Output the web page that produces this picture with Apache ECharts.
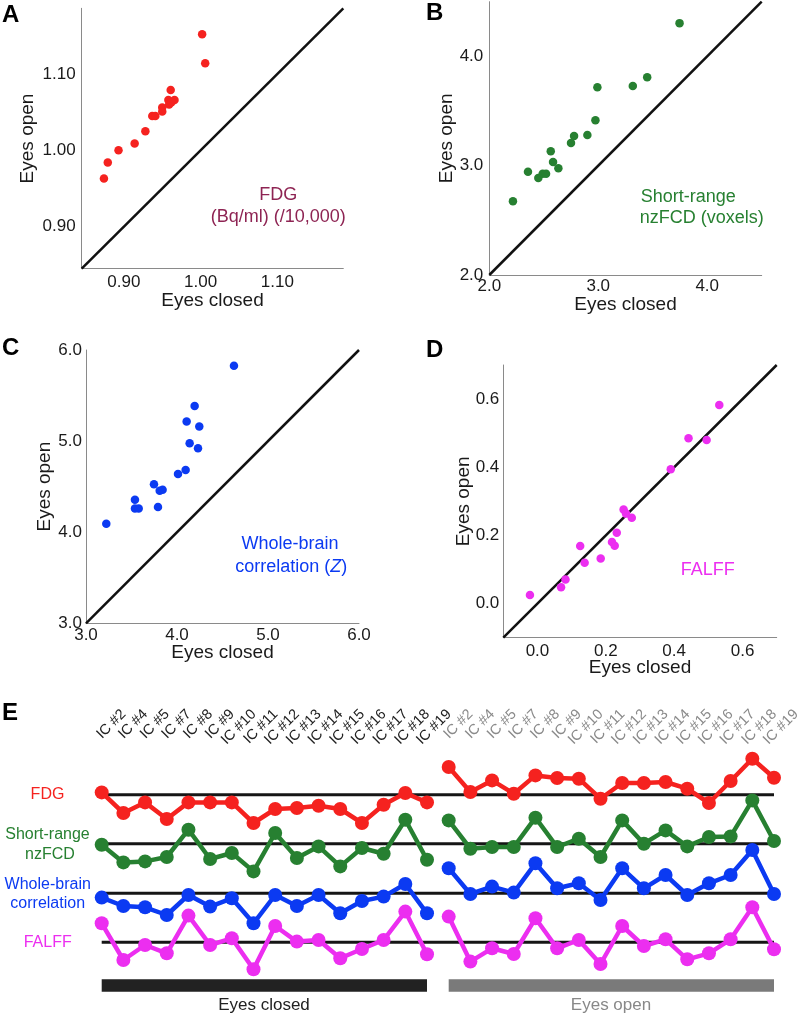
<!DOCTYPE html>
<html><head><meta charset="utf-8">
<script src="https://cdn.jsdelivr.net/npm/echarts@6/dist/echarts.min.js"></script>
<style>html,body{margin:0;padding:0;background:#fff}#c{width:800px;height:1015px}</style>
</head><body><div id="c"></div><script>
// ---------- DATA ----------
// Panel A: FDG (Bq/ml) (/10,000)
const fdgClosed = [1.002,1.006,0.961,0.958,0.966,0.959,0.950,0.950,0.937,0.941,0.928,0.914,0.893,0.879,0.874,0.962];
const fdgOpen   = [1.152,1.114,1.079,1.066,1.066,1.060,1.056,1.051,1.045,1.045,1.025,1.009,1.000,0.984,0.963,1.063];
// Panel B: short-range nzFCD (voxels)
const nzClosed = [3.746,3.449,3.317,2.992,2.974,2.900,2.778,2.750,2.564,2.585,2.634,2.355,2.450,2.490,2.521,2.217];
const nzOpen   = [4.304,3.809,3.729,3.717,3.416,3.280,3.271,3.207,3.131,3.033,2.976,2.945,2.888,2.927,2.927,2.675];
// Panel C: whole-brain correlation (Z)
const wbClosed = [4.626,4.194,4.106,4.245,4.139,4.231,4.095,4.011,3.747,3.810,3.842,3.538,3.538,3.579,3.791,3.223];
const wbOpen   = [5.828,5.386,5.214,5.159,4.976,4.921,4.683,4.639,4.526,4.456,4.467,4.357,4.259,4.259,4.277,4.094];
// Panel D: FALFF
const falffClosed = [0.532,0.442,0.495,0.390,0.252,0.259,0.276,0.232,0.218,0.226,0.125,0.138,0.185,0.082,0.069,-0.022];
const falffOpen   = [0.583,0.485,0.480,0.394,0.276,0.264,0.252,0.208,0.181,0.170,0.169,0.120,0.132,0.071,0.048,0.025];

// Tick labels
const ticksA = [0.90, 1.00, 1.10];
const ticksB = [2.0, 3.0, 4.0];
const ticksC = [3.0, 4.0, 5.0, 6.0];
const ticksD = [0.0, 0.2, 0.4, 0.6];

// Panel E: per-IC profiles (relative units, 0 = reference line)
const icLabels = ['IC #2','IC #4','IC #5','IC #7','IC #8','IC #9','IC #10','IC #11','IC #12','IC #13','IC #14','IC #15','IC #16','IC #17','IC #18','IC #19'];
const eFdgClosed   = [0.23,-1.83,-0.77,-2.43,-0.77,-0.77,-0.77,-2.83,-1.43,-1.33,-1.10,-1.43,-2.83,-1.00,0.17,-0.77];
const eFdgOpen     = [2.77,0.27,1.43,0.10,1.93,1.67,1.60,-0.40,1.17,1.17,1.27,0.60,-0.83,1.37,3.60,1.70];
const eNzClosed    = [-0.10,-1.87,-1.77,-1.33,1.40,-1.53,-0.93,-2.77,1.07,-1.43,-0.27,-2.27,-0.43,-1.00,2.40,-1.60];
const eNzOpen      = [2.33,-0.50,-0.33,-0.33,2.60,-0.33,0.50,-1.33,2.33,0.00,1.33,-0.27,0.67,0.73,4.33,0.27];
const eWbClosed    = [-0.43,-1.27,-1.40,-2.17,-0.17,-1.33,-0.50,-3.00,-0.17,-1.27,-0.17,-2.00,-0.77,-0.33,0.93,-2.00];
const eWbOpen      = [2.50,-0.07,0.67,0.07,3.00,0.50,1.00,-0.67,2.50,0.50,1.83,-0.17,1.00,1.83,4.33,-0.07];
const eFalffClosed = [1.90,-1.77,-0.27,-1.10,2.67,-0.27,0.40,-2.70,1.63,0.07,0.23,-1.60,-0.67,0.23,3.07,-1.20];
const eFalffOpen   = [2.57,-1.93,-0.60,-1.17,2.40,-0.60,0.23,-2.17,1.63,-0.37,0.30,-1.70,-1.10,0.30,3.50,-0.70];

// ---------- STYLE ----------
const FONT = '"Liberation Sans", Arial, Helvetica, sans-serif';
const RED = '#f5221f', GREEN = '#278031', BLUE = '#0b3af2', MAG = '#ec2ef0';
const N = icLabels.length;

const chart = echarts.init(document.getElementById('c'), null, {renderer: 'canvas'});

const grids = [
  {left: 81.7,  top: 8.3,  width: 261.6, height: 260.4},
  {left: 489.3, top: 1.7,  width: 272.4, height: 273.3},
  {left: 86,    top: 350,  width: 273,   height: 273.3},
  {left: 503.3, top: 365,  width: 273.4, height: 272.7},
  {left: 101.7, top: 750,  width: 672.3, height: 250},   // E plot
  {left: 123.7, top: 720,  width: 672.3, height: 10}     // E labels
];

function scatAxis(gi, min, max, ticks, dec, isY, nameGap, labelMargin) {
  return {
    type: 'value', gridIndex: gi, min: min, max: max,
    name: isY ? 'Eyes open' : 'Eyes closed',
    nameLocation: 'middle', nameGap: nameGap, nameMoveOverlap: false,
    nameTextStyle: {fontFamily: FONT, fontSize: 19, color: '#1a1a1a'},
    axisLine: {show: true, onZero: false, lineStyle: {color: '#8a8a8a', width: 1}},
    axisTick: {show: false, customValues: ticks},
    splitLine: {show: false},
    axisLabel: {customValues: ticks, margin: labelMargin, fontFamily: FONT, fontSize: 17, color: '#1a1a1a',
                formatter: v => Number(v).toFixed(dec)}
  };
}

const xAxes = [
  scatAxis(0, 0.845, 1.186, ticksA, 2, false, 23, 5),
  scatAxis(1, 2.0, 4.5, ticksB, 1, false, 20, 3),
  scatAxis(2, 3.0, 6.0, ticksC, 1, false, 20, 4),
  scatAxis(3, -0.1, 0.7, ticksD, 1, false, 21, 5),
  {type: 'value', gridIndex: 4, min: 0, max: 2 * N - 1, show: false},
  {type: 'value', gridIndex: 5, min: 0, max: 2 * N - 1, interval: 1, position: 'top',
   axisLine: {show: false}, axisTick: {show: false}, splitLine: {show: false},
   axisLabel: {rotate: 45, align: 'right', verticalAlign: 'middle', margin: 8, fontFamily: FONT, fontSize: 14.5,
     formatter: v => icLabels[v % N],
     color: (v) => (v < N ? '#222222' : '#8a8a8a')}}
];

// E y-axes: reference line pixel rows -> axis ranges (10 px per unit)
const eBottom = 1000, eSpan = 25;
function eAxis(yLine) {
  const m = -(eBottom - yLine) / 10;
  return {type: 'value', gridIndex: 4, min: m, max: m + eSpan, show: false};
}
const yAxes = [
  scatAxis(0, 0.845, 1.186, ticksA, 2, true, 44, 6),
  scatAxis(1, 2.0, 4.5, ticksB, 1, true, 33, 6),
  scatAxis(2, 3.0, 6.0, ticksC, 1, true, 31.5, 4),
  scatAxis(3, -0.1, 0.7, ticksD, 1, true, 30.5, 4),
  eAxis(794.7), eAxis(843.7), eAxis(893.3), eAxis(942.3), eAxis(985.5),
  {type: 'value', gridIndex: 5, show: false, min: 0, max: 1}
];

const zip = (a, b) => a.map((v, i) => [v, b[i]]);
const idx = (arr, off) => arr.map((v, i) => [i + off, v]);

function diag(gi, min, max) {
  return {type: 'line', xAxisIndex: gi, yAxisIndex: gi, data: [[min, min], [max, max]], symbol: 'none', silent: true,
          lineStyle: {color: '#111', width: 2.5}, z: 2};
}
function scat(gi, xs, ys, color) {
  return {type: 'scatter', xAxisIndex: gi, yAxisIndex: gi, data: zip(xs, ys), symbolSize: 8.5,
          itemStyle: {color: color, opacity: 1}, z: 3};
}
function refLine(yi) {
  return {type: 'line', xAxisIndex: 4, yAxisIndex: yi, data: [[0, 0], [2 * N - 1, 0]], symbol: 'none', silent: true,
          lineStyle: {color: '#161616', width: 3}, z: 2};
}
function prof(yi, arr, off, color) {
  return {type: 'line', xAxisIndex: 4, yAxisIndex: yi, data: idx(arr, off), symbol: 'circle', symbolSize: 14,
          lineStyle: {color: color, width: 4.5}, itemStyle: {color: color}, z: 3, silent: true};
}

const series = [
  diag(0, 0.845, 1.186), scat(0, fdgClosed, fdgOpen, RED),
  diag(1, 2.0, 4.5), scat(1, nzClosed, nzOpen, GREEN),
  diag(2, 3.0, 6.0), scat(2, wbClosed, wbOpen, BLUE),
  diag(3, -0.1, 0.7), scat(3, falffClosed, falffOpen, MAG),
  refLine(4), refLine(5), refLine(6), refLine(7),
  prof(4, eFdgClosed, 0, RED), prof(4, eFdgOpen, N, RED),
  prof(5, eNzClosed, 0, GREEN), prof(5, eNzOpen, N, GREEN),
  prof(6, eWbClosed, 0, BLUE), prof(6, eWbOpen, N, BLUE),
  prof(7, eFalffClosed, 0, MAG), prof(7, eFalffOpen, N, MAG),
  {type: 'line', xAxisIndex: 4, yAxisIndex: 8, data: [[0, 0], [N - 1, 0]], symbol: 'none', silent: true,
   lineStyle: {color: '#222222', width: 12.5, cap: 'butt'}},
  {type: 'line', xAxisIndex: 4, yAxisIndex: 8, data: [[N, 0], [2 * N - 1, 0]], symbol: 'none', silent: true,
   lineStyle: {color: '#7a7a7a', width: 12.5, cap: 'butt'}}
];

function txt(x, y, text, opts) {
  return Object.assign({type: 'text', x: x, y: y, silent: true,
    style: Object.assign({text: text, font: (opts.bold ? 'bold ' : '') + (opts.size || 16) + 'px ' + FONT,
      fill: opts.color || '#1a1a1a', textAlign: opts.align || 'center', textVerticalAlign: opts.valign || 'middle'},
      opts.rich ? {rich: opts.rich} : {})});
}
const L = {bold: true, size: 24, align: 'left', valign: 'top', color: '#000'};
const graphic = [
  txt(2, 3, 'A', L), txt(426, 1, 'B', L), txt(2, 336, 'C', L), txt(426, 338, 'D', L), txt(2, 701, 'E', L),
  txt(278.3, 195, 'FDG', {size: 18, color: '#8e2453'}),
  txt(278.3, 216.7, '(Bq/ml) (/10,000)', {size: 18, color: '#8e2453'}),
  txt(688.3, 196.7, 'Short-range', {size: 18, color: GREEN}),
  txt(701.7, 218.3, 'nzFCD (voxels)', {size: 18, color: GREEN}),
  txt(290, 544, 'Whole-brain', {size: 18, color: BLUE}),
  txt(291.3, 566.7, 'correlation ({i|Z})', {size: 18, color: BLUE,
      rich: {i: {fontStyle: 'italic', fontSize: 18, fontFamily: FONT, fill: BLUE, color: BLUE}}}),
  txt(707.8, 570, 'FALFF', {size: 18, color: MAG}),
  txt(47.5, 795, 'FDG', {size: 16, color: RED}),
  txt(47.5, 835, 'Short-range', {size: 16, color: GREEN}),
  txt(50, 855, 'nzFCD', {size: 16, color: GREEN}),
  txt(47.7, 885, 'Whole-brain', {size: 16, color: BLUE}),
  txt(47.7, 903.3, 'correlation', {size: 16, color: BLUE}),
  txt(47.7, 942.7, 'FALFF', {size: 16, color: MAG}),
  txt(264, 1005, 'Eyes closed', {size: 17, color: '#222'}),
  txt(611, 1005, 'Eyes open', {size: 17, color: '#888'})
];

chart.setOption({
  animation: false,
  backgroundColor: '#ffffff',
  textStyle: {fontFamily: FONT},
  grid: grids.map(g => Object.assign({containLabel: false, outerBoundsMode: 'none'}, g)),
  xAxis: xAxes, yAxis: yAxes, series: series, graphic: graphic
});
</script></body></html>
